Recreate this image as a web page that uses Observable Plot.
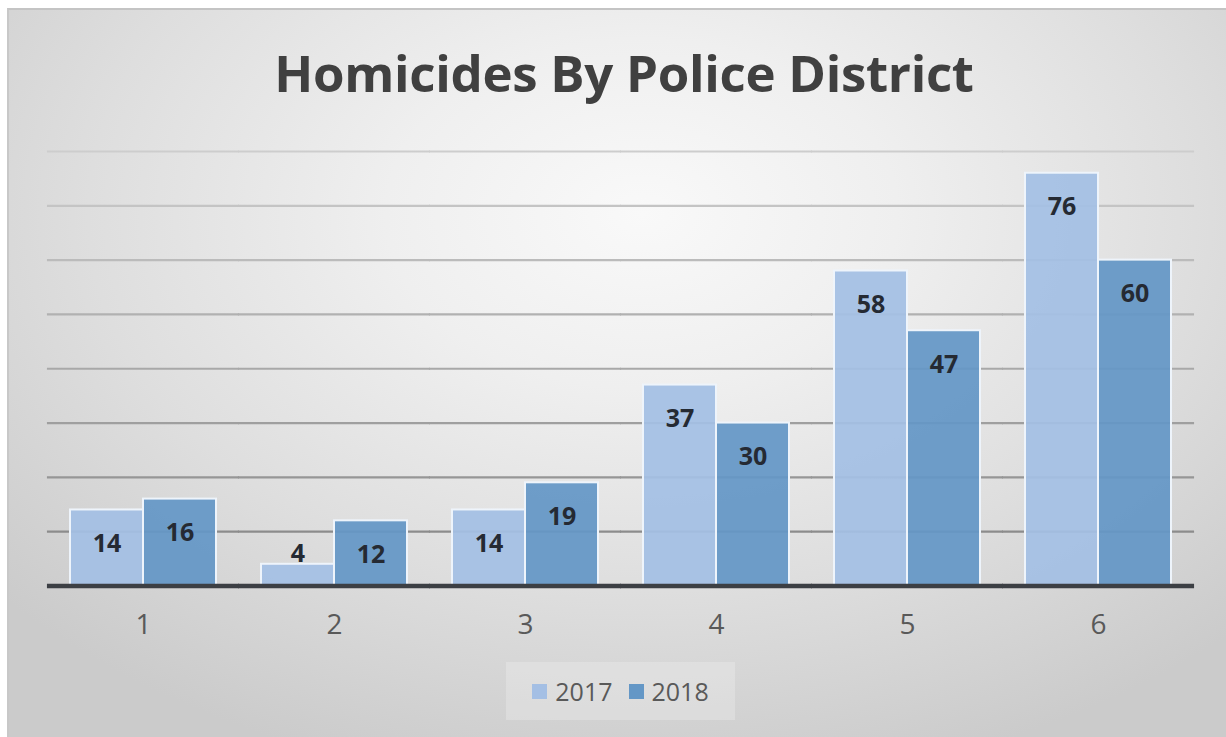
<!DOCTYPE html>
<html>
<head>
<meta charset="utf-8">
<script src="https://cdn.jsdelivr.net/npm/d3@7"></script>
<script src="https://cdn.jsdelivr.net/npm/@observablehq/plot@0.6"></script>
<style>
  html, body { margin: 0; padding: 0; background: #ffffff; width: 1226px; height: 737px; overflow: hidden; }
  #frame {
    position: absolute; left: 7px; top: 8px; width: 1219px; height: 729px;
    background: radial-gradient(ellipse 70% 80% at 52% 28%, #f9f9f9 0%, #efefef 30%, #dedede 65%, #cbcbcb 100%);
    border-top: 2px solid #c4c4c4; border-left: 2px solid #c8c8c8; box-sizing: border-box;
    font-family: "Open Sans", sans-serif;
  }
  #title {
    position: absolute; left: 0; top: 27px; width: 1230px; text-align: center;
    font-size: 51px; font-weight: 700; color: #404040; letter-spacing: -0.3px;
  }
  #chart { position: absolute; left: -2px; top: 110px; }
  #legend {
    position: absolute; left: 497px; top: 652px; width: 229px; height: 58px;
    background: rgba(255,255,255,0.22); display: flex; align-items: center; justify-content: center;
    font-size: 25px; color: #595959;
  }
  .item { display: flex; align-items: center; margin: 0 8px; }
  .sw { width: 15px; height: 15px; margin-right: 8px; }
</style>
</head>
<body>
<div id="frame">
  <div id="title">Homicides By Police District</div>
  <div id="chart"></div>
  <div id="legend"></div>
</div>
<script>
const districts = ["1", "2", "3", "4", "5", "6"];
const years = ["2017", "2018"];
const values2017 = [14, 4, 14, 37, 58, 76];
const values2018 = [16, 12, 19, 30, 47, 60];
const gridTicks = [10, 20, 30, 40, 50, 60, 70, 80];
const colors = ["#a4bfe4", "#6497c6"];

const rows = [];
districts.forEach((d, i) => {
  rows.push({district: d, year: "2017", value: values2017[i]});
  rows.push({district: d, year: "2018", value: values2018[i]});
});

const W = 1219, ML = 40, MR = 32;
const padInner = 0.235, padOuter = padInner / 2;
// half of the gap between facets, so that per-facet rules join into continuous lines
const step = (W - ML - MR) / (districts.length - padInner + 2 * padOuter);
const halfGap = step * padInner / 2;
const ext = -(halfGap + 0.6);

const gridColor = d3.interpolateRgb("#838383", "#cdcdcd");

const chart = Plot.plot({
  width: W,
  height: 545,
  marginTop: 31,
  marginBottom: 79.5,
  marginLeft: ML,
  marginRight: MR,
  style: {background: "transparent", fontFamily: "Open Sans, sans-serif", overflow: "visible"},
  fx: {domain: districts, paddingInner: padInner, paddingOuter: padOuter, label: null},
  x: {domain: years, padding: 0, axis: null},
  y: {domain: [0, 80], axis: null},
  color: {domain: years, range: colors},
  marks: [
    Plot.ruleY(gridTicks, {stroke: d => gridColor(d / 80), strokeWidth: 2.2, insetLeft: ext, insetRight: ext}),
    Plot.barY(rows, {fx: "district", x: "year", y: "value", fill: "year", fillOpacity: 0.93, stroke: "#eef4fb", strokeWidth: 2}),
    Plot.ruleY([0], {stroke: "#3c3f44", strokeWidth: 4.5, insetLeft: ext, insetRight: ext}),
    Plot.text(rows.filter(r => r.value >= 8), {fx: "district", x: "year", y: "value", text: "value", dy: 34, fontSize: 25, fontWeight: "bold", fill: "#252a33"}),
    Plot.text(rows.filter(r => r.value < 8), {fx: "district", x: "year", y: "value", text: "value", dy: -2, lineAnchor: "bottom", fontSize: 25, fontWeight: "bold", fill: "#252a33"}),
    Plot.axisFx({anchor: "bottom", tickSize: 0, tickPadding: 28, fontSize: 28, color: "#595959", label: null})
  ]
});
document.getElementById("chart").appendChild(chart);

const legend = document.getElementById("legend");
years.forEach((y, i) => {
  const item = document.createElement("div");
  item.className = "item";
  const sw = document.createElement("div");
  sw.className = "sw";
  sw.style.background = colors[i];
  const t = document.createElement("span");
  t.textContent = y;
  item.appendChild(sw);
  item.appendChild(t);
  legend.appendChild(item);
});
</script>
</body>
</html>
